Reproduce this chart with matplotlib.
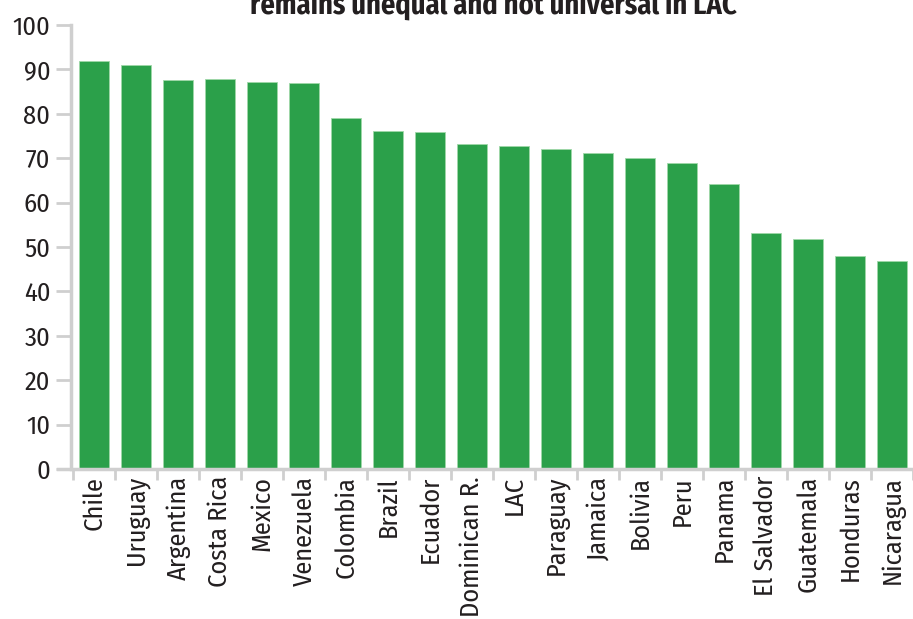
import matplotlib.pyplot as plt
import numpy as np

countries = ['Chile', 'Uruguay', 'Argentina', 'Costa Rica', 'Mexico', 'Venezuela',
             'Colombia', 'Brazil', 'Ecuador', 'Dominican R.', 'LAC', 'Paraguay',
             'Jamaica', 'Bolivia', 'Peru', 'Panama', 'El Salvador', 'Guatemala',
             'Honduras', 'Nicaragua']
values = [91.8, 91.0, 87.7, 87.9, 87.2, 86.9, 79.0, 76.1, 76.0, 73.1, 72.7, 72.0,
          71.1, 70.0, 69.0, 64.3, 53.1, 51.8, 47.9, 46.9]
yticks = [0, 10, 20, 30, 40, 50, 60, 70, 80, 90, 100]

font = ['Fira Sans Condensed', 'DejaVu Sans']
green = '#2BA04A'
grey = '#CFCFCF'

fig = plt.figure(figsize=(9.13, 6.19), dpi=100)
ax = fig.add_axes([71 / 913, 150 / 619, 842 / 913, 444 / 619])

x = np.arange(len(countries))
ax.bar(x, values, width=0.70, color=green, edgecolor='#9fd8a8', linewidth=0.6)

ax.set_ylim(0, 100)
ax.set_xlim(-0.55, len(countries) - 0.5)
ax.set_yticks(yticks)
ax.set_yticklabels([str(t) for t in yticks], fontsize=19, family=font, color='#231F20')
ax.set_xticks(x)
ax.set_xticklabels(countries, rotation=90, fontsize=19, family=font, color='#231F20')
ax.tick_params(axis='x', length=0, pad=5)
ax.tick_params(axis='y', length=11, width=2, color=grey, pad=4)

# category boundary ticks along the x axis
ax.set_xticks(np.arange(-0.5, len(countries)), minor=True)
ax.tick_params(axis='x', which='minor', length=8, width=2, color=grey)

for side in ['top', 'right']:
    ax.spines[side].set_visible(False)
for side in ['left', 'bottom']:
    ax.spines[side].set_color(grey)
    ax.spines[side].set_linewidth(2.5)
ax.spines['bottom'].set_bounds(-0.85, len(countries) - 0.5)

# second line of the chart title; the first line sits above the canvas
fig.text(0.5405, 1 - 14 / 619, 'remains unequal and not universal in LAC',
         ha='center', va='baseline', fontsize=20.5, fontweight='bold',
         family=font, color='#231F20')

fig.savefig('out.png', dpi=100)
